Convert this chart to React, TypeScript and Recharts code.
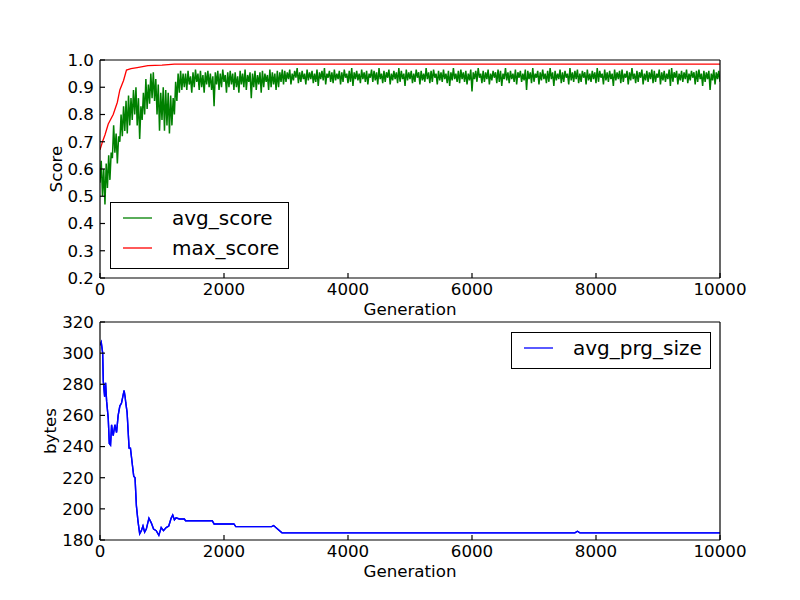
import { LineChart, Line, XAxis, YAxis, Legend } from 'recharts'

const FONT = '"DejaVu Sans", sans-serif'
const TICK_FONT = 16.7

// avg_score is noisy: low readings at gen 0, 40, 80 ... and high readings at gen 20, 60, 100 ...
const GEN_STEP = 40
const avgScoreLow = [
  0.55, 0.50, 0.47, 0.53, 0.56, 0.64, 0.66, 0.62, 0.70, 0.72,
  0.74, 0.73, 0.76, 0.78, 0.80, 0.76, 0.71, 0.78, 0.80, 0.82,
  0.84, 0.86, 0.85, 0.80, 0.74, 0.78, 0.74, 0.76, 0.73, 0.76,
  0.80, 0.85, 0.88, 0.89,
  0.90, 0.89, 0.91, 0.88, 0.90, 0.92, 0.89, 0.90, 0.88, 0.91,
  0.90, 0.89, 0.83, 0.91, 0.89, 0.90, 0.92, 0.88, 0.90, 0.91,
  0.89, 0.90, 0.88, 0.91, 0.90, 0.89, 0.92, 0.86, 0.90, 0.89,
  0.91, 0.88, 0.90, 0.92, 0.89, 0.90, 0.91, 0.89, 0.90, 0.92,
  0.91,
  0.92, 0.93, 0.91, 0.925, 0.935, 0.915, 0.92, 0.93, 0.91, 0.925,
  0.93, 0.915, 0.92, 0.905, 0.93, 0.925, 0.91, 0.935, 0.92, 0.915,
  0.925, 0.93, 0.91, 0.92, 0.935, 0.915, 0.92, 0.905, 0.93, 0.925,
  0.915, 0.93, 0.92, 0.91, 0.935, 0.92, 0.925, 0.91, 0.93, 0.915,
  0.92, 0.935, 0.91, 0.925, 0.93, 0.915, 0.92, 0.93, 0.905, 0.925,
  0.93, 0.915, 0.92, 0.935, 0.91, 0.925, 0.92, 0.93, 0.915, 0.92,
  0.935, 0.91, 0.925, 0.92, 0.93, 0.915, 0.905, 0.925, 0.93, 0.92,
  0.915, 0.93, 0.92, 0.91, 0.925, 0.885, 0.93, 0.92, 0.935, 0.915,
  0.92, 0.93, 0.91, 0.925, 0.935, 0.915, 0.92, 0.905, 0.93, 0.925,
  0.915, 0.93, 0.92, 0.91, 0.935, 0.92, 0.925, 0.89, 0.93, 0.915,
  0.92, 0.935, 0.91, 0.925, 0.93, 0.915, 0.92, 0.93, 0.905, 0.925,
  0.93, 0.915, 0.92, 0.935, 0.91, 0.925, 0.92, 0.93, 0.915, 0.92,
  0.935, 0.91, 0.925, 0.92, 0.93, 0.915, 0.92, 0.935, 0.91, 0.925,
  0.92, 0.93, 0.905, 0.925, 0.93, 0.915, 0.92, 0.935, 0.91, 0.925,
  0.93, 0.915, 0.92, 0.935, 0.91, 0.925, 0.92, 0.93, 0.915, 0.92,
  0.935, 0.91, 0.925, 0.92, 0.93, 0.905, 0.92, 0.935, 0.91, 0.925,
  0.92, 0.93, 0.915, 0.925, 0.935, 0.91, 0.92, 0.93, 0.905, 0.92,
  0.93, 0.89, 0.925, 0.91, 0.93, 0.92,
]
const avgScoreHigh = [
  0.63, 0.60, 0.62, 0.65, 0.66, 0.76, 0.73, 0.72, 0.80, 0.83,
  0.85, 0.87, 0.86, 0.89, 0.90, 0.86, 0.83, 0.88, 0.93, 0.91,
  0.95, 0.955, 0.93, 0.91, 0.88, 0.90, 0.89, 0.88, 0.87, 0.86,
  0.92, 0.95, 0.96, 0.95,
  0.95, 0.96, 0.94, 0.955, 0.965, 0.95, 0.96, 0.945, 0.955, 0.96,
  0.95, 0.94, 0.955, 0.96, 0.95, 0.965, 0.945, 0.955, 0.96, 0.95,
  0.955, 0.94, 0.96, 0.95, 0.965, 0.945, 0.955, 0.95, 0.96, 0.945,
  0.955, 0.96, 0.95, 0.945, 0.965, 0.955, 0.95, 0.96, 0.955, 0.965,
  0.96,
  0.955, 0.965, 0.95, 0.96, 0.97, 0.955, 0.96, 0.95, 0.965, 0.955,
  0.96, 0.95, 0.965, 0.955, 0.96, 0.97, 0.95, 0.96, 0.955, 0.965,
  0.95, 0.96, 0.955, 0.965, 0.95, 0.96, 0.97, 0.955, 0.96, 0.95,
  0.965, 0.955, 0.96, 0.95, 0.965, 0.96, 0.955, 0.97, 0.95, 0.96,
  0.955, 0.965, 0.95, 0.96, 0.955, 0.97, 0.96, 0.95, 0.965, 0.955,
  0.96, 0.95, 0.965, 0.955, 0.96, 0.95, 0.97, 0.955, 0.96, 0.965,
  0.95, 0.96, 0.955, 0.965, 0.95, 0.96, 0.955, 0.97, 0.95, 0.96,
  0.965, 0.955, 0.96, 0.95, 0.965, 0.955, 0.96, 0.97, 0.95, 0.96,
  0.955, 0.965, 0.95, 0.96, 0.955, 0.965, 0.96, 0.95, 0.97, 0.955,
  0.96, 0.95, 0.965, 0.955, 0.96, 0.95, 0.965, 0.96, 0.955, 0.97,
  0.95, 0.96, 0.955, 0.965, 0.95, 0.96, 0.97, 0.955, 0.96, 0.95,
  0.965, 0.955, 0.96, 0.95, 0.97, 0.955, 0.96, 0.965, 0.95, 0.96,
  0.955, 0.965, 0.95, 0.96, 0.955, 0.97, 0.96, 0.95, 0.965, 0.955,
  0.96, 0.95, 0.965, 0.955, 0.96, 0.965, 0.95, 0.96, 0.955, 0.97,
  0.95, 0.96, 0.955, 0.965, 0.95, 0.96, 0.955, 0.965, 0.96, 0.95,
  0.965, 0.955, 0.96, 0.95, 0.965, 0.97, 0.955, 0.96, 0.95, 0.96,
  0.955, 0.965, 0.95, 0.96, 0.955, 0.96, 0.965, 0.95, 0.96, 0.955,
  0.96, 0.95, 0.965, 0.955, 0.96,
]

const maxGen = [0, 40, 80, 133, 213, 280, 320, 380, 427, 500, 600, 773, 1000, 1200, 10000]
const maxScore = [0.67, 0.70, 0.725, 0.765, 0.80, 0.845, 0.89, 0.925, 0.963, 0.968, 0.972, 0.979, 0.981, 0.985, 0.985]

const sizeGen = [
  0, 20, 43, 53, 62, 75, 90, 107, 133, 150,
  170, 187, 200, 213, 240, 267, 293, 320, 347, 373,
  389, 405, 416, 437, 469, 491, 523, 544, 565, 587,
  613, 640, 667, 693, 720, 747, 789, 827, 864, 907,
  949, 987, 1024, 1067, 1109, 1147, 1173, 1200, 1227, 1280,
  1360, 1380, 1810, 1840, 2160, 2190, 2770, 2800, 2850, 2935,
  7660, 7700, 7740, 10000,
]
const avgPrgSize = [
  305, 307, 300, 282, 278, 272, 281, 269, 258, 242,
  241, 254, 250, 247, 254, 249, 260, 266, 268, 273,
  276, 272, 268, 262, 239, 239, 228, 221, 220, 202,
  192, 184, 186, 189, 185, 187, 194, 191, 187, 186,
  183, 188, 186, 188, 189, 194, 196, 193, 194.3, 193.5,
  193.5, 192.4, 192.4, 190.3, 190.3, 188.6, 188.6, 189.3, 187.6, 184.6,
  184.6, 185.6, 184.6, 184.6,
]

const genTicks = [0, 2000, 4000, 6000, 8000, 10000]
const scoreTicks = [0.2, 0.3, 0.4, 0.5, 0.6, 0.7, 0.8, 0.9, 1.0]
const bytesTicks = [180, 200, 220, 240, 260, 280, 300, 320]

const avgData = avgScoreLow.flatMap((score, i) => {
  const rows = [{ gen: i * GEN_STEP, score }]
  if (i < avgScoreHigh.length) rows.push({ gen: i * GEN_STEP + GEN_STEP / 2, score: avgScoreHigh[i] })
  return rows
})
const maxData = maxGen.map((gen, i) => ({ gen, score: maxScore[i] }))
const sizeData = sizeGen.map((gen, i) => ({ gen, size: avgPrgSize[i] }))

const tickStyle = { fill: '#000', fontSize: TICK_FONT, fontFamily: FONT }
const labelStyle = { fill: '#000', fontSize: TICK_FONT, fontFamily: FONT }
const black = { stroke: '#000', strokeWidth: 1.2 }

function LegendBox({ payload, width }: any) {
  return (
    <div style={{ width, boxSizing: 'border-box', border: '1px solid #000', background: '#fff', paddingBottom: 5, fontFamily: FONT, fontSize: 20, color: '#000' }}>
      {(payload || []).map((entry: any) => (
        <div key={entry.value} style={{ display: 'flex', alignItems: 'center', height: 30, paddingLeft: 12 }}>
          <svg width={29} height={4} style={{ marginRight: 20 }}>
            <line x1={0} y1={2} x2={29} y2={2} stroke={entry.color} strokeWidth={1.3} />
          </svg>
          <span style={{ lineHeight: '30px', whiteSpace: 'nowrap' }}>{entry.value}</span>
        </div>
      ))}
    </div>
  )
}

function ScorePanel() {
  return (
    <LineChart width={800} height={320} margin={{ top: 59, right: 79, bottom: 0, left: 40 }}>
      <XAxis xAxisId="b" dataKey="gen" type="number" domain={[0, 10000]} ticks={genTicks} interval={0}
        allowDataOverflow height={42} tickSize={-5} tickMargin={10} tick={tickStyle} tickLine={black} axisLine={black}
        label={{ value: 'Generation', position: 'insideBottom', offset: 5, style: labelStyle }} />
      <XAxis xAxisId="t" orientation="top" dataKey="gen" type="number" domain={[0, 10000]} ticks={genTicks} interval={0}
        allowDataOverflow height={1} tickSize={-5} tick={false} tickLine={black} axisLine={black} />
      <YAxis yAxisId="l" type="number" domain={[0.2, 1.0]} ticks={scoreTicks} interval={0} allowDataOverflow
        width={60} tickSize={-5} tickMargin={11} tick={tickStyle} tickLine={black} axisLine={black}
        tickFormatter={(v: number) => v.toFixed(1)}
        label={{ value: 'Score', angle: -90, position: 'insideLeft', offset: 16, style: { ...labelStyle, textAnchor: 'middle' } }} />
      <YAxis yAxisId="r" orientation="right" type="number" domain={[0.2, 1.0]} ticks={scoreTicks} interval={0}
        allowDataOverflow width={1} tickSize={-5} tick={false} tickLine={black} axisLine={black} />
      <Line xAxisId="b" yAxisId="l" data={avgData} dataKey="score" name="avg_score" type="linear"
        stroke="#008000" strokeWidth={1.5} dot={false} activeDot={false} isAnimationActive={false} />
      <Line xAxisId="t" yAxisId="r" data={maxData} dataKey="score" name="max_score" type="linear"
        stroke="#ff0000" strokeWidth={1.3} dot={false} activeDot={false} isAnimationActive={false} />
      <Legend layout="vertical" align="center" verticalAlign="middle"
        wrapperStyle={{ left: 110, top: 202, width: 179 }}
        content={(props: any) => <LegendBox payload={props.payload} width={179} />} />
    </LineChart>
  )
}

function SizePanel() {
  return (
    <LineChart width={800} height={300} margin={{ top: 21, right: 79, bottom: 18, left: 40 }}>
      <XAxis xAxisId="b" dataKey="gen" type="number" domain={[0, 10000]} ticks={genTicks} interval={0}
        allowDataOverflow height={42} tickSize={-5} tickMargin={10} tick={tickStyle} tickLine={black} axisLine={black}
        label={{ value: 'Generation', position: 'insideBottom', offset: 5, style: labelStyle }} />
      <XAxis xAxisId="t" orientation="top" dataKey="gen" type="number" domain={[0, 10000]} ticks={genTicks} interval={0}
        allowDataOverflow height={1} tickSize={-5} tick={false} tickLine={black} axisLine={black} />
      <YAxis yAxisId="l" type="number" domain={[180, 320]} ticks={bytesTicks} interval={0} allowDataOverflow
        width={60} tickSize={-5} tickMargin={11} tick={tickStyle} tickLine={black} axisLine={black}
        label={{ value: 'bytes', angle: -90, position: 'insideLeft', offset: 10, style: { ...labelStyle, textAnchor: 'middle' } }} />
      <YAxis yAxisId="r" orientation="right" type="number" domain={[180, 320]} ticks={bytesTicks} interval={0}
        allowDataOverflow width={1} tickSize={-5} tick={false} tickLine={black} axisLine={black} />
      <Line xAxisId="b" yAxisId="l" data={sizeData} dataKey="size" name="avg_prg_size" type="linear"
        stroke="#0000ff" strokeWidth={1.4} dot={false} activeDot={false} isAnimationActive={false} />
      <Line xAxisId="t" yAxisId="r" data={sizeData} dataKey="size" name="avg_prg_size" type="linear"
        stroke="#0000ff" strokeWidth={1.4} dot={false} activeDot={false} isAnimationActive={false} legendType="none" />
      <Legend layout="vertical" align="center" verticalAlign="middle"
        wrapperStyle={{ left: 511, top: 32, width: 200 }}
        content={(props: any) => <LegendBox payload={(props.payload || []).filter((p: any) => p.type !== 'none')} width={200} />} />
    </LineChart>
  )
}

export default function App() {
  return (
    <div style={{ position: 'absolute', left: 0, top: 0, width: 800, height: 600, background: '#fff' }}>
      <div style={{ position: 'absolute', left: 0, top: 0 }}>
        <ScorePanel />
      </div>
      <div style={{ position: 'absolute', left: 0, top: 300 }}>
        <SizePanel />
      </div>
    </div>
  )
}
